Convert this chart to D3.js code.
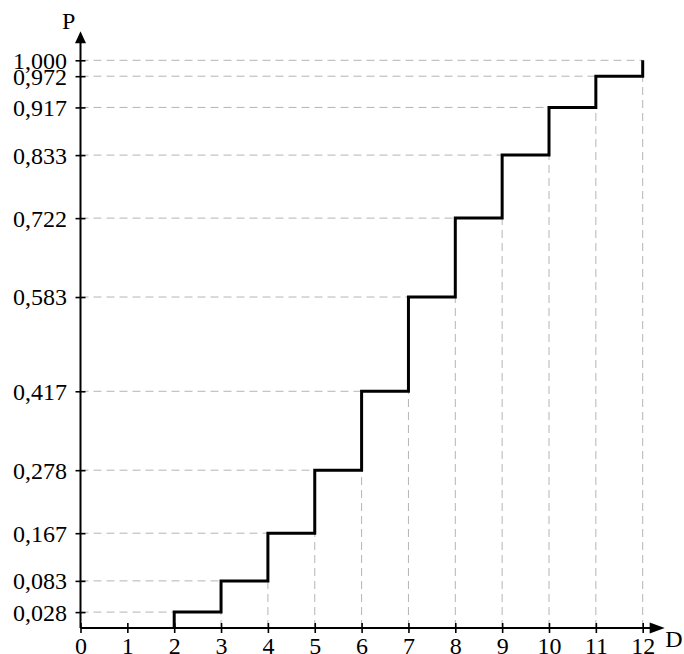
<!DOCTYPE html>
<html>
<head>
<meta charset="utf-8">
<script src="https://cdn.jsdelivr.net/npm/d3@7"></script>
<style>
  body { margin: 0; background: #fff; }
  svg text { font-family: "Liberation Serif", "Times New Roman", serif; font-size: 24px; fill: #000; }
</style>
</head>
<body>
<div class="svg-container"></div>
<script>
// values of D shown on the x axis
const dValues = [0, 1, 2, 3, 4, 5, 6, 7, 8, 9, 10, 11, 12];
// where the cumulative probability jumps, and the level reached there
const stepAt = [2, 3, 4, 5, 6, 7, 8, 9, 10, 11, 12];
const stepLevel = [0.028, 0.083, 0.167, 0.278, 0.417, 0.583, 0.722, 0.833, 0.917, 0.972, 1.000];
const levelLabels = ['0,028', '0,083', '0,167', '0,278', '0,417', '0,583', '0,722', '0,833', '0,917', '0,972', '1,000'];

const svgWidth = 684;
const svgHeight = 654;
const margin = { top: 60.3, right: 41.3, bottom: 26, left: 80.5 };
const width = svgWidth - margin.left - margin.right;
const height = svgHeight - margin.top - margin.bottom;

const svg = d3.select('.svg-container')
  .append('svg')
  .attr('width', svgWidth)
  .attr('height', svgHeight);
const group = svg.append('g')
  .attr('transform', `translate(${margin.left}, ${margin.top})`);

const x = d3.scaleLinear().domain([0, 12]).range([0, width]);
const y = d3.scaleLinear().domain([0, 1]).range([height, 0]);

const grid = group.append('g')
  .attr('stroke', '#b4b4b4')
  .attr('stroke-width', 1)
  .attr('stroke-dasharray', '8,5')
  .attr('fill', 'none');

// horizontal dashed lines: from the P axis to the jump
grid.selectAll('.h')
  .data(stepAt)
  .join('line')
  .attr('x1', 0)
  .attr('x2', (d) => x(d))
  .attr('y1', (d, i) => y(stepLevel[i]))
  .attr('y2', (d, i) => y(stepLevel[i]));

// vertical dashed lines: from the D axis up to the previous level
grid.selectAll('.v')
  .data(stepAt.slice(1))
  .join('line')
  .attr('x1', (d) => x(d))
  .attr('x2', (d) => x(d))
  .attr('y1', y(0))
  .attr('y2', (d, i) => y(stepLevel[i]));

// step line
const pts = [[stepAt[0], 0]];
stepAt.forEach((d, i) => {
  pts.push([d, stepLevel[i]]);
  if (i < stepAt.length - 1) pts.push([stepAt[i + 1], stepLevel[i]]);
});
const line = d3.line().x((d) => x(d[0])).y((d) => y(d[1]));
group.append('path')
  .datum(pts)
  .attr('fill', 'none')
  .attr('stroke', '#000')
  .attr('stroke-width', 3)
  .attr('stroke-linejoin', 'miter')
  .attr('d', line);

// X axis
const xAxis = group.append('g')
  .attr('transform', `translate(0, ${height})`)
  .call(d3.axisBottom(x).tickValues(dValues).tickSize(5).tickFormat(d3.format('d')));
xAxis.select('.domain').remove();
xAxis.selectAll('.tick line').attr('y1', -5).attr('y2', 5).attr('stroke-width', 1.6);
xAxis.selectAll('.tick text')
  .attr('y', 9)
  .attr('dy', '0.71em');

// Y axis
const yAxis = group.append('g')
  .call(d3.axisLeft(y).tickValues(stepLevel).tickSize(5)
    .tickFormat((d, i) => levelLabels[i]));
yAxis.select('.domain').remove();
yAxis.selectAll('.tick line').attr('x1', -5).attr('x2', 5).attr('stroke-width', 1.6);
yAxis.selectAll('.tick text')
  .attr('x', -13.5)
  .attr('dy', '0.33em');

// axis lines with arrows
group.append('line')
  .attr('x1', 0).attr('x2', x(12) + 8)
  .attr('y1', y(0)).attr('y2', y(0))
  .attr('stroke', '#000').attr('stroke-width', 2);
group.append('path')
  .attr('d', `M${x(12) + 7},${y(0) - 5.5}L${x(12) + 22},${y(0)}L${x(12) + 7},${y(0) + 5.5}Z`)
  .attr('fill', '#000');
group.append('line')
  .attr('x1', 0).attr('x2', 0)
  .attr('y1', y(0)).attr('y2', y(1) - 18)
  .attr('stroke', '#000').attr('stroke-width', 2);
group.append('path')
  .attr('d', `M${-5.5},${y(1) - 17}L0,${y(1) - 29}L${5.5},${y(1) - 17}Z`)
  .attr('fill', '#000');

// axis names
group.append('text')
  .attr('x', x(12) + 22.5)
  .attr('y', y(0) + 19)
  .text('D');
group.append('text')
  .attr('x', -18.5)
  .attr('y', y(1) - 31)
  .text('P');
</script>
</body>
</html>
